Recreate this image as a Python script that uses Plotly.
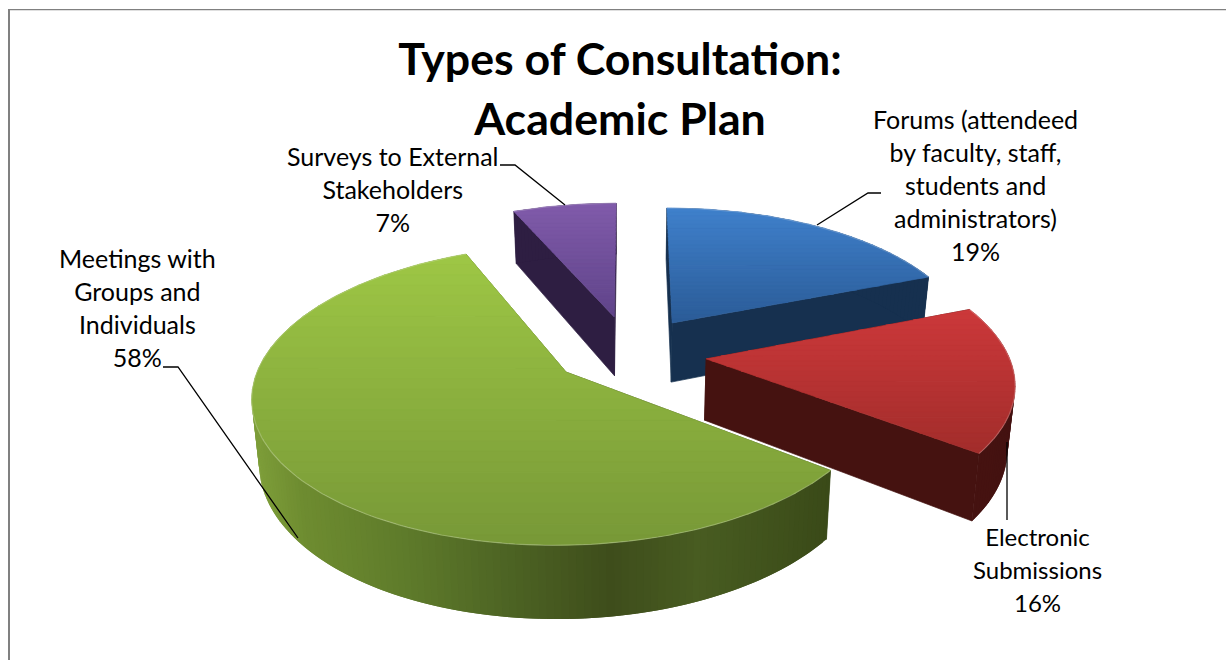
import math
import plotly.graph_objects as go

# ---- data
categories = ["Forums (attendeed by faculty, staff, students and administrators)",
              "Electronic Submissions", "Meetings with Groups and Individuals",
              "Surveys to External Stakeholders"]
values = [19.0, 16.4, 58.1, 6.5]      # unrounded shares
shown_percent = ["19%", "16%", "58%", "7%"]
label_lines = [["Forums (attendeed", "by faculty, staff,", "students and", "administrators)"],
               ["Electronic", "Submissions"],
               ["Meetings with", "Groups and", "Individuals"],
               ["Surveys to External", "Stakeholders"]]
title_lines = ["Types of Consultation:", "Academic Plan"]
top_colors = [("#3F80CB", "#2B5C98"), ("#CB383A", "#A32D2B"), ("#9DC645", "#789937"), ("#805BAA", "#60448A")]
wall_stops = [[(660, "#16304F"), (940, "#16304F")],
              [(700, "#4F1712"), (1010, "#441210")],
              [(255, "#7D9D39"), (300, "#6E8C30"), (400, "#5F7C2B"), (500, "#4E6524"), (610, "#3E4D1B"),
               (700, "#485C21"), (830, "#3A4A18")],
              [(510, "#2E1E42"), (620, "#2E1E42")]]
draw_order = [3, 0, 1, 2]
page_nudge_x = [4, 4, 0, 2]
page_nudge_y = [2, 5, 1, 1]
label_pos = [(975, 184.5), (1037, 569), (137, 307), (393, 189)]
label_size = [25, 24, 25, 25]
leaders = [[(817, 225), (868, 193), (881, 193)],
           [(1007, 442), (1007, 520)],
           [(298, 538), (178, 367), (163, 367)],
           [(565, 205), (515, 165), (500, 165)]]

# ---- projection of the tilted, exploded pie onto the page
CX, CY, A, B, K, EXPLODE, DEPTH, SHRINK = 627, 349, 302, 140, 0.15, 0.25, 61, 0.98


def project(u, v, nx=0, ny=0):
    f = 1 / (1 + K * v)
    return CX + A * u * f + nx, CY - B * v * f + ny


def drop(p, u, v):
    f = 1 / (1 + K * v)
    return CX + (p[0] - CX) * SHRINK, p[1] + DEPTH * f


def hex_rgb(h):
    return tuple(int(h[i:i + 2], 16) for i in (1, 3, 5))


def mix(a, b, t):
    ca, cb = hex_rgb(a), hex_rgb(b)
    return "rgb(%d,%d,%d)" % tuple(round(x + (y - x) * t) for x, y in zip(ca, cb))


def wall_color(stops, x):
    if x <= stops[0][0]:
        return mix(stops[0][1], stops[0][1], 0)
    for (x0, c0), (x1, c1) in zip(stops, stops[1:]):
        if x <= x1:
            return mix(c0, c1, (x - x0) / (x1 - x0))
    return mix(stops[-1][1], stops[-1][1], 0)


def clip_y(poly, y0, y1):
    def clip(pts, inside, cross):
        out = []
        for i, p in enumerate(pts):
            q = pts[i - 1]
            if inside(p):
                if not inside(q):
                    out.append(cross(q, p))
                out.append(p)
            elif inside(q):
                out.append(cross(q, p))
        return out

    def at(yv):
        return lambda a, b: (a[0] + (b[0] - a[0]) * (yv - a[1]) / (b[1] - a[1]), yv)

    res = clip(poly, lambda p: p[1] >= y0, at(y0))
    return clip(res, lambda p: p[1] <= y1, at(y1)) if res else res


def fill_trace(poly, color, edge=0.7):
    xs = [p[0] for p in poly] + [poly[0][0]]
    ys = [p[1] for p in poly] + [poly[0][1]]
    return go.Scatter(x=xs, y=ys, mode="lines", fill="toself", fillcolor=color,
                      line=dict(color=color, width=edge), hoverinfo="skip", showlegend=False)


fig = go.Figure()
total = sum(values)
starts, a0 = [], 0.0
for val in values:
    starts.append(a0)
    a0 += 2 * math.pi * val / total

for idx in draw_order:
    a0 = starts[idx]
    a1 = a0 + 2 * math.pi * values[idx] / total
    mid = (a0 + a1) / 2
    nx, ny = page_nudge_x[idx], page_nudge_y[idx]
    ou, ov = EXPLODE * math.sin(mid), EXPLODE * math.cos(mid)
    n = max(30, int(values[idx] * 3))
    uv = [(ou + math.sin(a0 + (a1 - a0) * i / n), ov + math.cos(a0 + (a1 - a0) * i / n)) for i in range(n + 1)]
    arc = [project(u, v, nx, ny) for u, v in uv]
    arc_low = [drop(p, *q) for p, q in zip(arc, uv)]
    apex = project(ou, ov, nx, ny)
    apex_low = drop(apex, ou, ov)
    stops = wall_stops[idx]
    # radial walls
    fig.add_trace(fill_trace([apex, arc[0], arc_low[0], apex_low], wall_color(stops, arc[0][0])))
    fig.add_trace(fill_trace([apex, arc[-1], arc_low[-1], apex_low], wall_color(stops, arc[-1][0])))
    # outer wall: each strip overlaps the next one, so no seams show
    for i in range(n):
        j = min(i + 2, n)
        upper = arc[i:j + 1]
        lower = arc_low[i:j + 1][::-1]
        fig.add_trace(fill_trace(upper + lower, wall_color(stops, (arc[i][0] + arc[i + 1][0]) / 2), edge=0))
    # top face with a vertical gradient
    poly = [apex] + arc
    ymin, ymax = min(p[1] for p in poly), max(p[1] for p in poly)
    bands = 28
    h = (ymax - ymin) / bands
    for b in range(bands):
        part = clip_y(poly, ymin + b * h - 0.3, ymin + (b + 1) * h + 0.3)
        if len(part) >= 3:
            fig.add_trace(fill_trace(part, mix(top_colors[idx][0], top_colors[idx][1], b / (bands - 1))))
    # soft highlight along the rim of the top face
    fig.add_trace(go.Scatter(x=[p[0] for p in arc], y=[p[1] for p in arc], mode="lines",
                             line=dict(color="rgba(255,255,255,0.22)", width=1.2),
                             hoverinfo="skip", showlegend=False))

# leader lines
for pts in leaders:
    fig.add_trace(go.Scatter(x=[p[0] for p in pts], y=[p[1] for p in pts], mode="lines",
                             line=dict(color="#000000", width=1.3), hoverinfo="skip", showlegend=False))

# labels: base size sets the line pitch, the span sets the glyph size
for lines, pct, (lx, ly), size in zip(label_lines, shown_percent, label_pos, label_size):
    rows = lines + [pct]
    fig.add_annotation(x=lx, y=ly, xref="x", yref="y", showarrow=False, align="center",
                       font=dict(family="Lato", size=25.4, color="#000000"),
                       text="<br>".join(f'<span style="font-size:{size}px">{r}</span>' for r in rows))

fig.update_layout(
    width=1226, height=660, margin=dict(l=0, r=0, t=0, b=0),
    paper_bgcolor="#FFFFFF", plot_bgcolor="#FFFFFF", showlegend=False,
    title=dict(text="<br>".join(f'<span style="font-size:44.7px"><b>{t}</b></span>' for t in title_lines),
               x=620 / 1226, xanchor="center", y=1 - 75 / 660, yanchor="top",
               font=dict(family="Lato", size=46, color="#000000")),
    xaxis=dict(range=[0, 1226], visible=False, fixedrange=True),
    yaxis=dict(range=[660, 0], visible=False, fixedrange=True),
    shapes=[dict(type="line", xref="x", yref="y", x0=9, x1=9, y0=9, y1=660, line=dict(color="#808080", width=2)),
            dict(type="line", xref="x", yref="y", x0=8, x1=1226, y0=9.7, y1=9.7, line=dict(color="#808080", width=1.3))],
)
fig.write_html("out.html", config={"displayModeBar": False},
               post_script="document.body.style.margin='0';document.body.style.overflow='hidden';")
